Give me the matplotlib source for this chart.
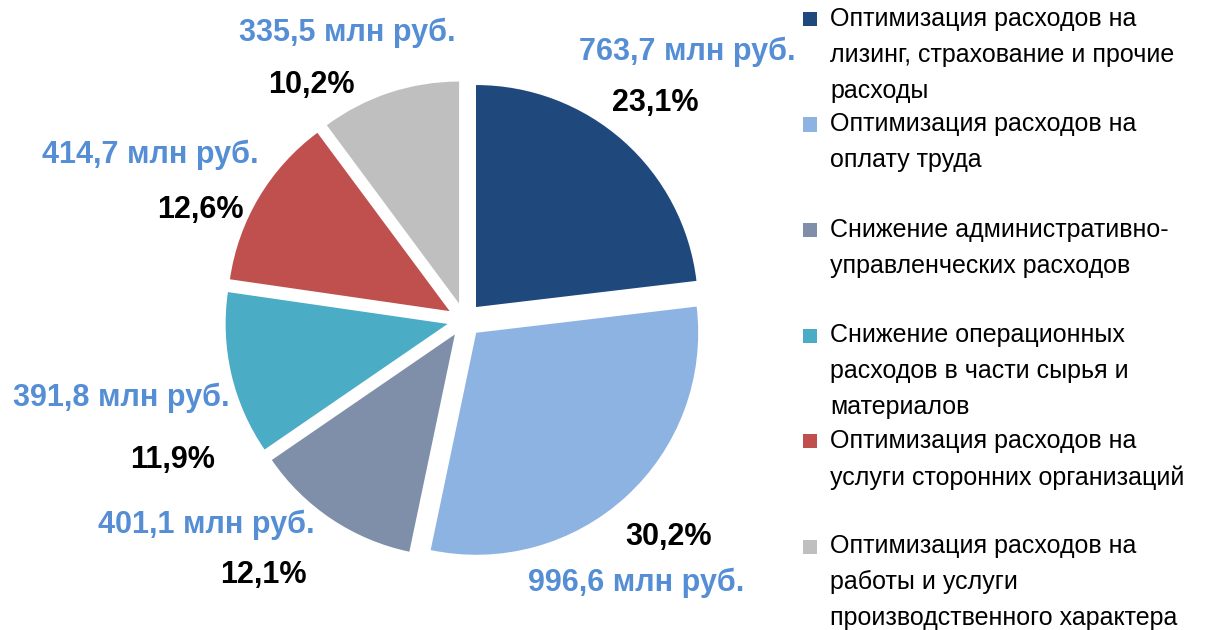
import matplotlib
matplotlib.use("Agg")
import matplotlib.pyplot as plt
from matplotlib.patches import Rectangle

# данные
categories = [
    "Оптимизация расходов на\nлизинг, страхование и прочие\nрасходы",
    "Оптимизация расходов на\nоплату труда",
    "Снижение административно-\nуправленческих расходов",
    "Снижение операционных\nрасходов в части сырья и\nматериалов",
    "Оптимизация расходов на\nуслуги сторонних организаций",
    "Оптимизация расходов на\nработы и услуги\nпроизводственного характера",
]
values_mln = [763.7, 996.6, 401.1, 391.8, 414.7, 335.5]
value_labels = ["763,7 млн руб.", "996,6 млн руб.", "401,1 млн руб.",
                "391,8 млн руб.", "414,7 млн руб.", "335,5 млн руб."]
pct_labels = ["23,1%", "30,2%", "12,1%", "11,9%", "12,6%", "10,2%"]
colors = ["#1F497D", "#8DB3E2", "#7F8FA9", "#4BACC6", "#C0504D", "#BFBFBF"]

# позиции подписей (пиксели)
value_pos = [(687, 52), (636, 583), (206, 525), (121, 398), (150, 155), (347, 33)]
pct_pos = [(655, 103), (669, 537), (263, 575), (173, 460), (200, 210), (311, 85)]

plt.rcParams["font.family"] = ["Liberation Sans", "DejaVu Sans"]

W, H = 1206, 630
fig = plt.figure(figsize=(W / 100, H / 100), dpi=100)

cx, cy, r = 464.5, 320, 222
half = 1.5 * r
ax = fig.add_axes([(cx - half) / W, (H - cy - half) / H, 2 * half / W, 2 * half / H])
ax.pie(values_mln, colors=colors, startangle=90, counterclock=False,
       explode=[0.078] * len(values_mln), radius=1.0,
       wedgeprops=dict(linewidth=0))
ax.set_xlim(-1.5, 1.5)
ax.set_ylim(-1.5, 1.5)
ax.set_aspect("auto")
ax.axis("off")


def to_data(px, py):
    return (px - cx) / r, (cy - py) / r


for (vx, vy), (qx, qy), vl, pl in zip(value_pos, pct_pos, value_labels, pct_labels):
    x, y = to_data(vx, vy)
    ax.text(x, y, vl, ha="center", va="center", fontsize=22, fontweight="bold",
            color="#558ED5", clip_on=False)
    x, y = to_data(qx, qy)
    ax.text(x, y, pl, ha="center", va="center", fontsize=22, fontweight="bold",
            color="black", clip_on=False)

# легенда вручную
top0, step = 7, 105.5
for i, (cat, col) in enumerate(zip(categories, colors)):
    ty = top0 + i * step
    fig.text(830 / W, 1 - ty / H, cat, ha="left", va="top", fontsize=18,
             linespacing=1.62, color="black")
    fig.patches.append(Rectangle((803 / W, 1 - (ty + 19) / H), 14 / W, 14 / H,
                                 transform=fig.transFigure, facecolor=col,
                                 edgecolor="none"))

fig.savefig("out.png", dpi=100)
